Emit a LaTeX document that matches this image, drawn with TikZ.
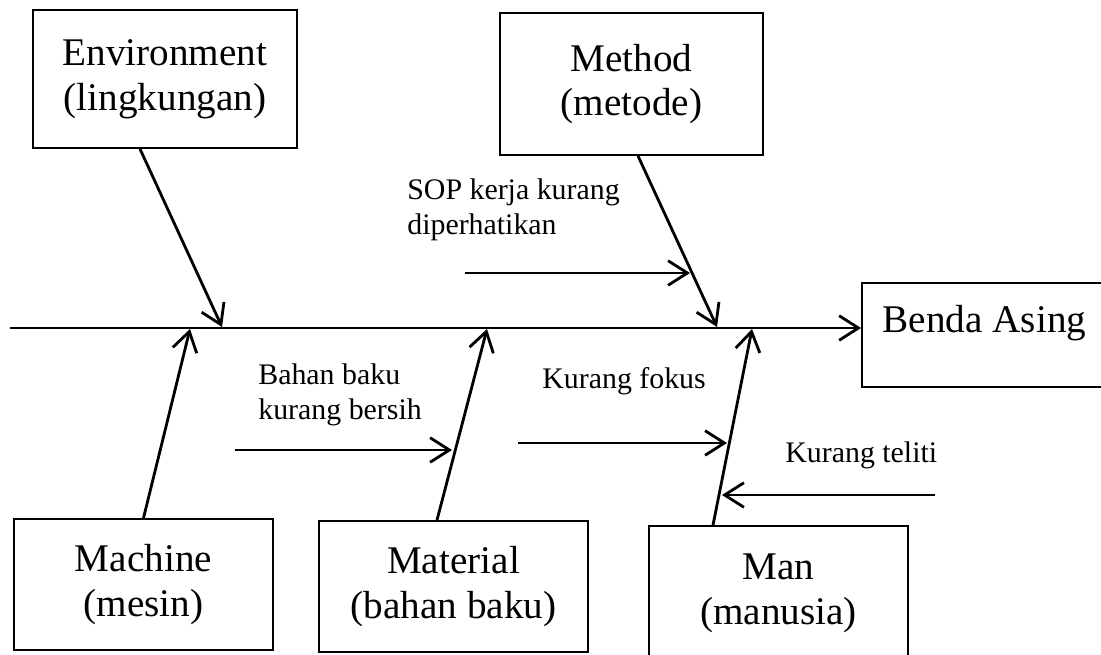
\documentclass[tikz,border=0pt]{standalone}
\usepackage{fontspec}
\setmainfont{Liberation Serif}
\usetikzlibrary{arrows.meta}

\begin{document}
\begin{tikzpicture}[x=0.02cm, y=-0.02cm,
  catbox/.style={draw, line width=1.1pt, align=center, font=\fontsize{22.3}{25.5}\selectfont},
  bone/.style={line width=1.6pt, -{Straight Barb[length=11pt, width=14pt]}},
  causetext/.style={anchor=north west, inner sep=0pt, align=left, font=\fontsize{17}{20}\selectfont}]
  \useasboundingbox (0,0) rectangle (1101,655);
  \node [catbox, minimum width=5.28cm, minimum height=2.76cm] (env) at (165,79) {Environment\\(lingkungan)};
  \node [catbox, minimum width=5.26cm, minimum height=2.84cm] (method) at (631.5,84) {Method\\(metode)};
  \node [catbox, minimum width=4.9cm, inner sep=0pt, text height=28pt, text depth=31pt] (benda) at (984.5,335) {Benda Asing};
  \node [catbox, minimum width=5.18cm, minimum height=2.62cm] (machine) at (143.5,584.5) {Machine\\(mesin)};
  \node [catbox, minimum width=5.38cm, minimum height=2.62cm] (material) at (453.5,586.5) {Material\\(bahan baku)};
  \node [catbox, minimum width=5.18cm, minimum height=2.68cm] (man) at (778.5,593) {Man\\(manusia)};
  \coordinate (tail) at (10,328);
  \coordinate (envjoint) at (222,327);
  \coordinate (methjoint) at (717,327);
  \coordinate (machjoint) at (190,329);
  \coordinate (matjoint) at (487,329);
  \coordinate (manjoint) at (752,329);
  \draw [bone] (tail) -- (tail -| benda.west);
  \draw [bone] ([xshift=-0.5cm]env.south) -- (envjoint);
  \draw [bone] ([xshift=0.13cm]method.south) -- (methjoint);
  \draw [bone] (machine.north) -- (machjoint);
  \draw [bone] ([xshift=-0.33cm]material.north) -- (matjoint);
  \draw [bone] ([xshift=-1.31cm]man.north) -- (manjoint);
  \coordinate (sopstart) at (465,273);
  \coordinate (sopend) at (690,273);
  \coordinate (bahanstart) at (235,450);
  \coordinate (bahanend) at (452,450);
  \coordinate (fokusstart) at (518,443);
  \coordinate (fokusend) at (727,443);
  \coordinate (telitistart) at (935,495);
  \coordinate (telitiend) at (722,495);
  \draw [bone] (sopstart) -- (sopend);
  \draw [bone] (bahanstart) -- (bahanend);
  \draw [bone] (fokusstart) -- (fokusend);
  \draw [bone] (telitistart) -- (telitiend);
  \node [causetext] (sop) at (407,178) {SOP kerja kurang\\diperhatikan};
  \node [causetext] (bahan) at (258,363) {Bahan baku\\kurang bersih};
  \node [causetext] (fokus) at (542,367) {Kurang fokus};
  \node [causetext] (teliti) at (785,441) {Kurang teliti};
\end{tikzpicture}
\end{document}
